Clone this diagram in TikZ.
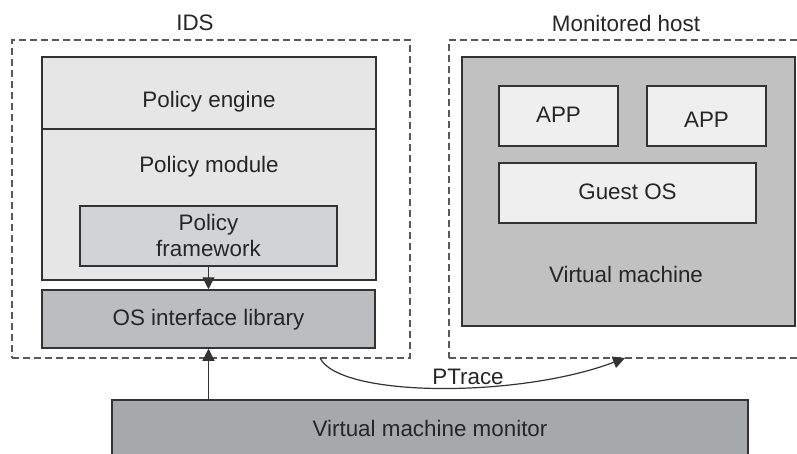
\documentclass[tikz,border=0pt]{standalone}
\usepackage{fontspec}
\setmainfont{Liberation Sans}
\usetikzlibrary{arrows.meta}
\definecolor{paleGray}{HTML}{E6E6E7}
\definecolor{fwGray}{HTML}{D2D3D5}
\definecolor{libGray}{HTML}{BCBDBF}
\definecolor{vmmGray}{HTML}{A7A8AA}
\definecolor{vmGray}{HTML}{C1C1C1}
\definecolor{appGray}{HTML}{EFEFEF}
\definecolor{lineGray}{HTML}{333333}
\begin{document}
\begin{tikzpicture}[x=0.5pt,y=-0.5pt]

    \tikzset{
      box/.style={
        draw=lineGray,
        line width=0.75pt,
        inner sep=0pt,
      },
      frame/.style={
        draw=black!65,
        line width=0.6pt,
        dash pattern=on 3.5pt off 2pt,
        inner sep=0pt,
      },
      txt/.style={
        text=black!85,
        font=\fontsize{11.2}{13}\selectfont,
        align=center,
        inner sep=0pt,
      },
      arr/.style={
        draw=lineGray,
        line width=0.6pt,
        -{Triangle[length=6pt,width=6pt]},
      },
    }
    \clip (0,0) rectangle (797,454);
	% dashed frames
	\node[frame,minimum width=199pt,minimum height=159pt] (ids) at (211,199) {};
	\node[frame,minimum width=178pt,minimum height=159pt] (host) at (627,199) {};
	\node[txt] (idslabel) at (195,23) {IDS};
	\node[txt] (hostlabel) at (626,23) {Monitored host};
	% IDS side
	\node[box,fill=paleGray,minimum width=167pt,minimum height=36pt] (engine) at (209,93) {};
	\node[box,fill=paleGray,minimum width=167pt,minimum height=75.5pt] (module) at (209,204.5) {};
	\node[txt] (enginetext) at (209,102) {Policy engine};
	\node[txt] (moduletext) at (209,167) {Policy module};
	\node[box,fill=fwGray,minimum width=128.5pt,minimum height=30pt] (framework) at (208.5,236) {};
	\node[txt] (frameworktext) at (208.5,235) {Policy\\framework};
	\node[box,fill=libGray,minimum width=166.5pt,minimum height=29pt] (oslib) at (208.5,319) {};
	\node[txt] (oslibtext) at (208.5,320) {OS interface library};
	% monitored host side
	\node[box,fill=vmGray,minimum width=166.5pt,minimum height=134.5pt] (vm) at (628.5,191.5) {};
	\node[txt] (vmtext) at (626,274) {Virtual machine};
	\node[box,fill=appGray,minimum width=59.5pt,minimum height=30pt] (appA) at (558.5,116) {};
	\node[txt] (appAtext) at (558.5,115) {APP};
	\node[box,fill=appGray,minimum width=59.5pt,minimum height=30pt] (appB) at (706.5,116) {};
	\node[txt] (appBtext) at (706.5,120) {APP};
	\node[box,fill=appGray,minimum width=128.5pt,minimum height=30pt] (guestos) at (627.5,193) {};
	\node[txt] (guestostext) at (627.5,192) {Guest OS};
	% monitor
	\node[box,fill=vmmGray,minimum width=318pt,minimum height=28pt] (vmm) at (430,428) {};
	\node[txt] (vmmtext) at (430,428) {Virtual machine monitor};
	% connectors
	\draw[arr] (framework.south) -- (oslib.north);
	\draw[arr] (vmm.north -| oslib.south) -- (oslib.south);
	\coordinate (ptfrom) at (320,358);
	\coordinate (ptto) at (625,358);
	\draw[arr] (ptfrom) .. controls (340,398) and (520,398) .. (ptto);
	\node[txt] (ptrace) at (468,377) {PTrace};

\end{tikzpicture}
\end{document}
